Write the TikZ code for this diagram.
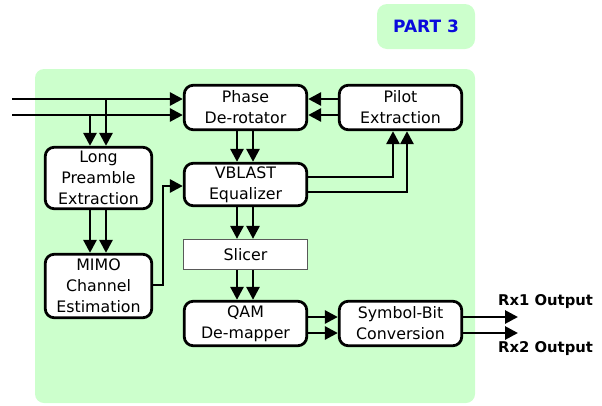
\documentclass[tikz,border=0pt]{standalone}
\usepackage{fontspec}
\setmainfont{DejaVu Sans}
\usetikzlibrary{arrows.meta,calc}
\definecolor{panelgreen}{RGB}{204,255,204}
\definecolor{partblue}{RGB}{10,10,220}
\begin{document}
\begin{tikzpicture}[x=1pt,y=-1pt,
  blk/.style={draw=black, line width=2.8pt, rounded corners=9pt, fill=white, align=center,
    font=\fontsize{15.8}{20.8}\selectfont, inner sep=0pt},
  wideblk/.style={blk, minimum width=122.5pt},
  arr/.style={line width=2.8pt, -{Triangle[length=13pt,width=13pt]}},
  lbl/.style={anchor=west, inner sep=0pt, font=\fontsize{14.8}{17}\selectfont\bfseries}]
\useasboundingbox (0,0) rectangle (602,405);
\fill[panelgreen, rounded corners=9pt] (35,69) rectangle (475,403);
\node[fill=panelgreen, rounded corners=10pt, minimum width=98pt, minimum height=45pt, inner sep=0pt,
  text=partblue, font=\fontsize{17}{20}\selectfont\bfseries] (part) at (426,26.5) {PART 3};

\node[wideblk, minimum height=44.5pt] (phase) at (245.5,107.5) {Phase\\De-rotator};
\node[wideblk, minimum height=44.5pt] (pilot) at (400.5,107.5) {Pilot\\Extraction};
\node[blk, minimum width=106.5pt, minimum height=61.5pt] (long) at (98.5,178) {Long\\Preamble\\Extraction};
\node[wideblk, minimum height=42.5pt] (vblast) at (245.5,184.5) {VBLAST\\Equalizer};
\node[draw=gray!70!black, line width=1.2pt, fill=white, minimum width=124pt, minimum height=30pt, inner sep=0pt,
  font=\fontsize{15.8}{20.8}\selectfont] (slicer) at (245.5,254.5) {Slicer};
\node[blk, minimum width=106.5pt, minimum height=63.5pt] (mimo) at (98.5,286) {MIMO\\Channel\\Estimation};
\node[wideblk, minimum height=44.5pt] (qam) at (245.5,323.5) {QAM\\De-mapper};
\node[wideblk, minimum height=44.5pt] (symbit) at (400.5,323.5) {Symbol-Bit\\Conversion};

\node[lbl] (rx1) at (498,302) {Rx1 Output};
\node[lbl] (rx2) at (498,349) {Rx2 Output};

% inputs
\coordinate (in1) at (12,99);
\coordinate (in2) at (12,115);
\draw[arr] (in1) -- (in1 -| phase.west);
\draw[arr] (in2) -- (in2 -| phase.west);
\coordinate (b1) at (106,99);
\coordinate (b2) at (90,115);
\draw[arr] (b1) -- (b1 |- long.north);
\draw[arr] (b2) -- (b2 |- long.north);

% pilot -> phase
\coordinate (p1) at (0,99);
\coordinate (p2) at (0,115);
\draw[arr] (p1 -| pilot.west) -- (p1 -| phase.east);
\draw[arr] (p2 -| pilot.west) -- (p2 -| phase.east);

% vertical chains
\coordinate (c1) at (237,0);
\coordinate (c2) at (253,0);
\draw[arr] (c1 |- phase.south) -- (c1 |- vblast.north);
\draw[arr] (c2 |- phase.south) -- (c2 |- vblast.north);
\draw[arr] (c1 |- vblast.south) -- (c1 |- slicer.north);
\draw[arr] (c2 |- vblast.south) -- (c2 |- slicer.north);
\draw[arr] (c1 |- slicer.south) -- (c1 |- qam.north);
\draw[arr] (c2 |- slicer.south) -- (c2 |- qam.north);

\coordinate (l1) at (90,0);
\coordinate (l2) at (106,0);
\draw[arr] (l1 |- long.south) -- (l1 |- mimo.north);
\draw[arr] (l2 |- long.south) -- (l2 |- mimo.north);

% vblast -> pilot
\coordinate (v1) at (393,177);
\coordinate (v2) at (407,192);
\draw[arr] (v1 -| vblast.east) -- (v1) -- (v1 |- pilot.south);
\draw[arr] (v2 -| vblast.east) -- (v2) -- (v2 |- pilot.south);

% mimo -> vblast
\coordinate (m1) at (163,285);
\coordinate (m2) at (163,186);
\draw[arr] (m1 -| mimo.east) -- (m1) -- (m2) -- (m2 -| vblast.west);

% qam -> symbit -> outputs
\coordinate (q1) at (0,317);
\coordinate (q2) at (0,333);
\draw[arr] (q1 -| qam.east) -- (q1 -| symbit.west);
\draw[arr] (q2 -| qam.east) -- (q2 -| symbit.west);
\coordinate (o1) at (518,317);
\coordinate (o2) at (518,333);
\draw[arr] (o1 -| symbit.east) -- (o1);
\draw[arr] (o2 -| symbit.east) -- (o2);
\end{tikzpicture}
\end{document}
